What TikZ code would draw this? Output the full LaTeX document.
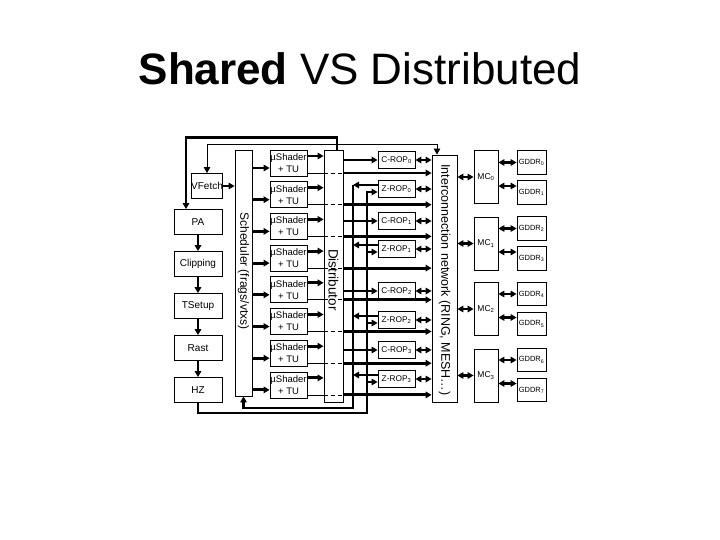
\documentclass[tikz,border=0pt]{standalone}
\usepackage{fontspec}
\setmainfont{Liberation Sans}
\usetikzlibrary{arrows.meta}
\begin{document}
\begin{tikzpicture}[x=1pt,y=-1pt,
  box/.style={draw,line width=0.8pt,inner sep=0pt},
  thk/.style={line width=2.9pt},
  thn/.style={line width=0.8pt},
  tip/.style={-{Triangle[length=6pt,width=6.5pt]}},
  dtip/.style={{Triangle[length=6pt,width=6.5pt]}-{Triangle[length=6pt,width=6.5pt]}},
  lbl/.style={font=\fontsize{10}{12}\selectfont},
  shd/.style={box,minimum width=37pt,minimum height=26pt,align=center,font=\fontsize{9.5}{12}\selectfont},
  rop/.style={box,minimum width=37pt,minimum height=17pt,font=\fontsize{8.3}{9}\selectfont},
  mcb/.style={box,minimum width=24pt,minimum height=53pt,font=\fontsize{8.5}{10}\selectfont},
  gdb/.style={box,minimum width=29pt,minimum height=23.5pt,font=\fontsize{7.5}{9}\selectfont}]
\useasboundingbox (0,0) rectangle (720,540);
\fill[white] (0,0) rectangle (720,540);
% title
\node[anchor=base,font=\fontsize{44}{50}\selectfont] (title) at (360,85) {\textbf{Shared} VS Distributed};
% left pipeline
\node[box,lbl,minimum width=30pt,minimum height=25pt] (vf) at (207,186) {VFetch};
\node[box,lbl,minimum width=48pt,minimum height=25pt] (pa) at (198,222) {PA};
\node[box,lbl,minimum width=48pt,minimum height=25pt] (clip) at (198,264) {Clipping};
\node[box,lbl,minimum width=48pt,minimum height=25pt] (ts) at (198,306) {TSetup};
\node[box,lbl,minimum width=48pt,minimum height=25pt] (rast) at (198,348) {Rast};
\node[box,lbl,minimum width=48pt,minimum height=25pt] (hz) at (198,390) {HZ};
\draw[thk,tip] (pa) -- (clip);
\draw[thk,tip] (clip) -- (ts);
\draw[thk,tip] (ts) -- (rast);
\draw[thk,tip] (rast) -- (hz);
% scheduler
\node[box,minimum width=17pt,minimum height=246pt] (sched) at (243.5,273) {};
\node[rotate=-90,font=\fontsize{12}{14}\selectfont] (schedt) at (243.5,271) {Scheduler (frags/vtxs)};
\draw[thk,tip] (vf.east) -- (sched.west |- vf.east);
% distributor
\node[box,minimum width=19pt,minimum height=252pt] (dist) at (333.5,276) {};
\node[rotate=-90,font=\fontsize{13.5}{15}\selectfont] (distt) at (333.5,280) {Distributor};
% interconnect
\node[box,minimum width=25pt,minimum height=247pt] (icn) at (444.5,278.5) {};
\node[rotate=-90,font=\fontsize{12.5}{15}\selectfont] (icnt) at (444.5,280) {Interconnection network (RING, MESH…)};
% shaders
\foreach \i in {0,...,7} {
  \pgfmathsetmacro{\cy}{163+31.7*\i}
  \node[shd] (sh\i) at (288.5,\cy) {µShader\\+ TU};
  \coordinate (shL\i) at ([yshift=-5pt]sh\i.west);
  \coordinate (shR\i) at ([yshift=7pt]sh\i.east);
  \coordinate (shT\i) at ([yshift=-10pt]sh\i.east);
  \draw[thk,tip] (sched.east |- shL\i) -- (shL\i);
  \draw[thk,tip] (shR\i) -- (dist.west |- shR\i);
  \draw[thn] (shT\i) -- (dist.west |- shT\i);
  \draw[thn,dash pattern=on 4pt off 3pt] (dist.west |- shT\i) -- (dist.east |- shT\i);
  \draw[thk,tip] (dist.east |- shT\i) -- (icn.west |- shT\i);
}
% ROPs
\coordinate (busA) at (353,0);
\coordinate (busB) at (367,0);
\foreach \i/\cyc/\cyz in {0/160/189,1/221/249,2/291/320,3/350/379} {
  \node[rop] (cr\i) at (396.5,\cyc) {C-ROP\textsubscript{\i}};
  \node[rop] (zr\i) at (396.5,\cyz) {Z-ROP\textsubscript{\i}};
  \draw[thk,tip] (dist.east |- cr\i.west) -- (cr\i.west);
  \draw[thk,dtip] (cr\i.east) -- (icn.west |- cr\i.east);
  \draw[thk,dtip] (zr\i.east) -- (icn.west |- zr\i.east);
  \coordinate (zo\i) at ([yshift=4pt]zr\i.west);
  \coordinate (zi\i) at ([yshift=-3pt]zr\i.west);
  \draw[thk,tip] (zo\i) -- (busA |- zo\i);
}
\coordinate (fbk) at (353,408);
\draw[thk,tip] (busA |- zo0) -- (fbk) -| (sched.south);
\coordinate (hzb) at (367,413);
\draw[thk,tip] (hz.south) |- (hzb) -- (busB |- zi0) -- (zi0);
\foreach \i in {1,2,3} { \draw[thk,tip] (busB |- zi\i) -- (zi\i); }
% feedback lines on top
\coordinate (pafb) at ([xshift=-12pt]pa.north);
\draw[thk,tip] ([xshift=3.5pt]dist.north) -- ++(0,-12) -| (pafb);
\coordinate (icnT) at ([xshift=-7.5pt]icn.north);
\draw[thn,dtip] (vf.north) -- ++(0,-29) -| (icnT);
% memory controllers
\foreach \i/\cy in {0/177,1/243.5,2/309,3/375.5} {
  \node[mcb] (mc\i) at (486,\cy) {MC\textsubscript{\i}};
  \draw[thk,dtip] (icn.east |- mc\i.west) -- (mc\i.west);
}
\foreach \j/\cy/\k/\dy in {0/162.5/0/0,1/192.5/0/6.5,2/228.5/1/0,3/258.5/1/6.5,4/294/2/0,5/324/2/6.5,6/360/3/0,7/390/3/6.5} {
  \node[gdb] (gd\j) at (531.5,\cy) {GDDR\textsubscript{\j}};
  \coordinate (gp\j) at ([yshift=\dy pt]gd\j.west);
  \draw[thk,dtip] (mc\k.east |- gp\j) -- (gp\j);
}
\end{tikzpicture}
\end{document}
